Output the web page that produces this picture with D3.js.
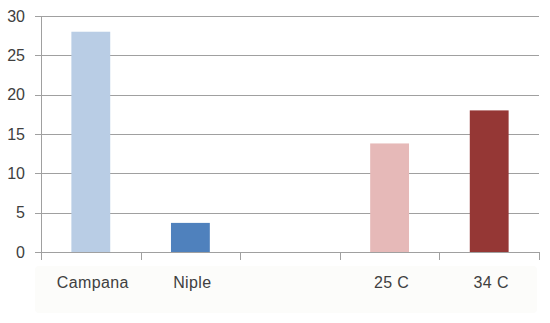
<!DOCTYPE html>
<html>
<head>
<meta charset="utf-8">
<script src="https://cdn.jsdelivr.net/npm/d3@7"></script>
<style>
html,body{margin:0;padding:0;background:#fff;}
svg{display:block;}
</style>
</head>
<body>
<svg id="chart" width="550" height="323"></svg>
<script>
const categories = ["Campana", "Niple", "", "25 C", "34 C"];
const values = [28, 3.7, null, 13.8, 18];
const barColors = ["#b9cde5", "#4f81bd", "#ffffff", "#e6b9b8", "#953735"];
const yTicks = [0, 5, 10, 15, 20, 25, 30];

(function () {
const svg = d3.select("#chart");
const mLeft = 41, mRight = 539, mTop = 16, mBottom = 252;

// faint label backdrop
svg.append("rect").attr("x", 35).attr("y", 266).attr("width", 502).attr("height", 47)
  .attr("rx", 4).attr("fill", "#fcfcfa");

const x = d3.scaleBand().domain(d3.range(categories.length)).range([mLeft, mRight])
  .paddingInner(0.61).paddingOuter(0.305);
const xCat = d3.scaleBand().domain(d3.range(categories.length)).range([mLeft, mRight]).padding(0);
const y = d3.scaleLinear().domain([0, 30]).range([mBottom, mTop]);

const gridColor = "#a0a0a0";
const textColor = "#404040";

// gridlines + y ticks
svg.append("g").selectAll("line").data(yTicks).join("line")
  .attr("x1", mLeft - 6).attr("x2", mRight)
  .attr("y1", d => Math.round(y(d)) + 0.5).attr("y2", d => Math.round(y(d)) + 0.5)
  .attr("stroke", gridColor).attr("stroke-width", 1);

// y axis line
svg.append("line").attr("x1", mLeft + 0.5).attr("x2", mLeft + 0.5)
  .attr("y1", y(30)).attr("y2", mBottom + 8).attr("stroke", gridColor);

// y labels
svg.append("g").selectAll("text").data(yTicks).join("text")
  .attr("x", 25).attr("y", d => y(d)).attr("dy", "0.36em")
  .attr("text-anchor", "end")
  .attr("font-family", "Liberation Sans, Arial, sans-serif").attr("font-size", 16)
  .attr("fill", textColor).text(d => d);

// bars
svg.append("g").selectAll("rect").data(values.map((v, i) => ({v, i})).filter(d => d.v != null)).join("rect")
  .attr("x", d => x(d.i)).attr("width", x.bandwidth())
  .attr("y", d => y(d.v)).attr("height", d => mBottom - y(d.v))
  .attr("fill", d => barColors[d.i]);

// x axis line
svg.append("line").attr("x1", mLeft).attr("x2", mRight + 0.5)
  .attr("y1", mBottom + 0.5).attr("y2", mBottom + 0.5).attr("stroke", gridColor);

// x category ticks
const tickPos = d3.range(categories.length + 1).map(i => i < categories.length ? xCat(i) : mRight);
svg.append("g").selectAll("line").data(tickPos).join("line")
  .attr("x1", d => Math.round(d) + 0.5).attr("x2", d => Math.round(d) + 0.5)
  .attr("y1", mBottom).attr("y2", mBottom + 8).attr("stroke", gridColor);

// x labels
svg.append("g").selectAll("text").data(categories).join("text")
  .attr("x", (d, i) => xCat(i) + xCat.bandwidth() / 2 + 2).attr("y", 288)
  .attr("text-anchor", "middle")
  .attr("font-family", "Liberation Sans, Arial, sans-serif").attr("font-size", 16)
  .attr("letter-spacing", "0.4px")
  .attr("fill", textColor).text(d => d);
})();
</script>
</body>
</html>
